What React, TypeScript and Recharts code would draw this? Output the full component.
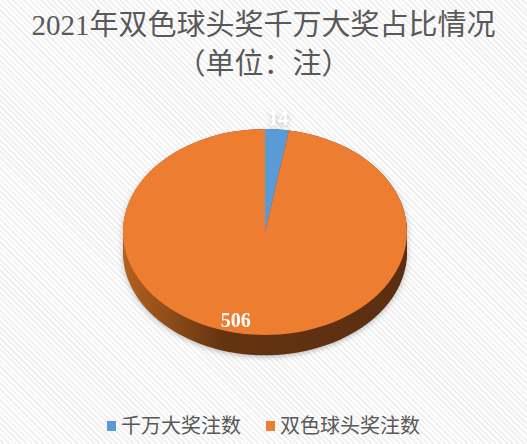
import { PieChart, Pie, Cell } from 'recharts';

// --- data ---
const categories = ['千万大奖注数', '双色球头奖注数'];
const counts = [14, 506];
const topColors = ['#5B9BD5', '#ED7D31'];
const sideColors = ['url(#sideBlue)', 'url(#sideOrange)'];

const data = categories.map((name, i) => ({ name, value: counts[i] }));

// 3D look: pie is squashed vertically, side built from stacked layers
const TILT = 0.725;
const CX = 265;
const CY = 320;
const R = 142;
const DEPTH = 28;
const LAYERS = Array.from({ length: 15 }, (_, i) => DEPTH - i * 2);

const FONT = "'Liberation Serif', 'Noto Sans CJK SC', serif";

function renderLabel(props: any) {
    const { cx, cy, midAngle, index, value } = props;
    const RAD = Math.PI / 180;
    const r = index === 0 ? R * 1.11 : R * 0.86;
    const nudge = index === 0 ? 0 : -19;
    const x = cx + r * Math.cos(-midAngle * RAD) + nudge;
    const y = cy + r * Math.sin(-midAngle * RAD);
    return (
        <g transform={`translate(${x},${y}) scale(1,${1 / TILT})`}>
            <text
                x={0}
                y={0}
                textAnchor="middle"
                dominantBaseline="central"
                fill="#ffffff"
                fontSize={20}
                fontWeight="bold"
                fontFamily={FONT}
            >
                {value}
            </text>
        </g>
    );
}

export default function App() {
    return (
        <div
            style={{
                position: 'absolute',
                left: 0,
                top: 0,
                width: 527,
                height: 444,
                overflow: 'hidden',
                background: 'repeating-linear-gradient(45deg, #ffffff 0px, #ffffff 2px, #f1f1f1 2px, #f1f1f1 4px)',
            }}
        >
            <div
                style={{
                    position: 'absolute',
                    left: 0,
                    top: 6,
                    width: 527,
                    textAlign: 'center',
                    color: '#595959',
                    fontFamily: FONT,
                    fontSize: 29,
                    lineHeight: '39px',
                }}
            >
                2021年双色球头奖千万大奖占比情况
                <br />
                （单位：注）
            </div>

            <div
                style={{
                    position: 'absolute',
                    left: 0,
                    top: 0,
                    width: 527,
                    height: 520,
                    transform: `scaleY(${TILT})`,
                    transformOrigin: 'top left',
                    filter: 'drop-shadow(0px 3px 3px rgba(0,0,0,0.22))',
                }}
            >
                <PieChart width={527} height={520} margin={{ top: 0, right: 0, bottom: 0, left: 0 }}>
                    <defs>
                        <linearGradient id="sideOrange" x1="0" y1="0" x2="1" y2="0">
                            <stop offset="0%" stopColor="#b4611f" />
                            <stop offset="35%" stopColor="#653411" />
                            <stop offset="100%" stopColor="#5a2e10" />
                        </linearGradient>
                        <linearGradient id="sideBlue" x1="0" y1="0" x2="1" y2="0">
                            <stop offset="0%" stopColor="#3c6890" />
                            <stop offset="100%" stopColor="#2c4f70" />
                        </linearGradient>
                    </defs>
                    {LAYERS.map((off) => (
                        <Pie
                            key={`side-${off}`}
                            data={data}
                            dataKey="value"
                            cx={CX}
                            cy={CY + off}
                            outerRadius={R}
                            startAngle={90}
                            endAngle={-270}
                            stroke="none"
                            isAnimationActive={false}
                            legendType="none"
                        >
                            {data.map((d, i) => (
                                <Cell key={`s-${off}-${i}`} fill={sideColors[i]} />
                            ))}
                        </Pie>
                    ))}
                    <Pie
                        data={data}
                        dataKey="value"
                        cx={CX}
                        cy={CY}
                        outerRadius={R}
                        startAngle={90}
                        endAngle={-270}
                        stroke="none"
                        isAnimationActive={false}
                        label={renderLabel}
                        labelLine={false}
                    >
                        {data.map((d, i) => (
                            <Cell key={`t-${i}`} fill={topColors[i]} />
                        ))}
                    </Pie>
                </PieChart>
            </div>

            <div
                style={{
                    position: 'absolute',
                    left: 0,
                    top: 413,
                    width: 527,
                    display: 'flex',
                    justifyContent: 'center',
                    alignItems: 'center',
                    color: '#595959',
                    fontFamily: FONT,
                    fontSize: 20,
                    lineHeight: '26px',
                }}
            >
                {categories.map((c, i) => (
                    <div
                        key={c}
                        style={{ display: 'flex', alignItems: 'center', marginLeft: i === 0 ? 0 : 25 }}
                    >
                        <span
                            style={{
                                display: 'inline-block',
                                width: 9,
                                height: 10,
                                background: topColors[i],
                                marginRight: 5,
                            }}
                        />
                        {c}
                    </div>
                ))}
            </div>
        </div>
    );
}
